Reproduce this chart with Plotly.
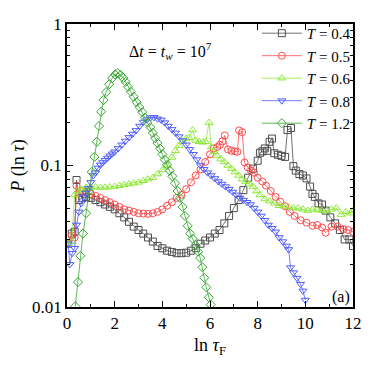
import plotly.graph_objects as go

# ln(tau_F) and P(ln tau), one pair of lists per temperature
x_04 = [0.05, 0.2, 0.32, 0.4, 0.5, 0.65, 0.8, 1.0, 1.2, 1.4, 1.6, 1.8, 2.0, 2.2, 2.4, 2.6, 2.8, 3.0,
        3.2, 3.4, 3.6, 3.8, 4.0, 4.2, 4.4, 4.6, 4.8, 5.0, 5.2, 5.4, 5.6, 5.8, 6.0, 6.2, 6.4, 6.6,
        6.8, 7.0, 7.2, 7.4, 7.6, 7.8, 8.0, 8.1, 8.2, 8.3, 8.4, 8.5, 8.6, 8.7, 8.85, 9.0, 9.15,
        9.25, 9.4, 9.5, 9.6, 9.75, 9.9, 10.05, 10.2, 10.3, 10.4, 10.55, 10.7, 10.85, 11.05,
        11.25, 11.45, 11.65, 11.85, 12.0]
y_04 = [0.028, 0.033, 0.034, 0.079, 0.057, 0.059, 0.060, 0.059, 0.057, 0.055, 0.053, 0.051, 0.049,
        0.046, 0.043, 0.040, 0.037, 0.035, 0.033, 0.031, 0.029, 0.027, 0.026, 0.025, 0.0245,
        0.024, 0.024, 0.0242, 0.025, 0.026, 0.028, 0.0295, 0.031, 0.033, 0.035, 0.039, 0.044,
        0.050, 0.057, 0.067, 0.082, 0.095, 0.108, 0.123, 0.126, 0.132, 0.127, 0.147, 0.155,
        0.122, 0.119, 0.117, 0.115, 0.178, 0.184, 0.099, 0.092, 0.087, 0.085, 0.081, 0.071,
        0.063, 0.060, 0.054, 0.053, 0.048, 0.043, 0.039, 0.035, 0.030, 0.030, 0.027]

x_05 = [0.05, 0.2, 0.32, 0.4, 0.5, 0.65, 0.8, 1.0, 1.2, 1.4, 1.6, 1.8, 2.0, 2.2, 2.4, 2.6, 2.8, 3.0,
        3.2, 3.4, 3.6, 3.8, 4.0, 4.2, 4.4, 4.6, 4.8, 5.0, 5.2, 5.4, 5.6, 5.8, 6.0, 6.15, 6.3, 6.42,
        6.52, 6.62, 6.75, 6.9, 7.05, 7.15, 7.22, 7.35, 7.45, 7.58, 7.72, 7.85, 8.0, 8.2, 8.35,
        8.55, 8.75, 8.95, 9.15, 9.35, 9.55, 9.8, 10.05, 10.3, 10.5, 10.7, 10.85, 11.1, 11.35,
        11.6, 11.8, 12.0]
y_05 = [0.028, 0.032, 0.031, 0.072, 0.064, 0.066, 0.065, 0.063, 0.061, 0.059, 0.057, 0.055, 0.053,
        0.051, 0.049, 0.048, 0.047, 0.046, 0.0457, 0.0455, 0.046, 0.047, 0.049, 0.052, 0.055,
        0.059, 0.062, 0.068, 0.076, 0.085, 0.094, 0.106, 0.120, 0.132, 0.135, 0.140, 0.148,
        0.163, 0.130, 0.127, 0.126, 0.125, 0.177, 0.172, 0.105, 0.097, 0.092, 0.089, 0.082,
        0.077, 0.072, 0.066, 0.060, 0.0555, 0.0515, 0.047, 0.044, 0.041, 0.0395, 0.0375, 0.038,
        0.0365, 0.0335, 0.037, 0.037, 0.0355, 0.035, 0.034]

x_06 = [0.05, 0.2, 0.32, 0.45, 0.6, 0.8, 1.0, 1.2, 1.4, 1.6, 1.8, 2.0, 2.2, 2.4, 2.6, 2.8, 3.0, 3.2,
        3.4, 3.6, 3.8, 4.0, 4.2, 4.4, 4.55, 4.7, 4.85, 5.0, 5.12, 5.27, 5.4, 5.55, 5.7, 5.82,
        5.96, 6.05, 6.17, 6.3, 6.45, 6.6, 6.75, 6.9, 7.05, 7.2, 7.35, 7.5, 7.65, 7.8, 7.95, 8.1,
        8.3, 8.5, 8.7, 8.9, 9.1, 9.3, 9.5, 9.7, 9.9, 10.1, 10.3, 10.5, 10.7, 10.9, 11.1, 11.3,
        11.5, 11.7, 11.9, 12.0]
y_06 = [0.028, 0.029, 0.062, 0.066, 0.068, 0.070, 0.070, 0.0705, 0.070, 0.070, 0.0705, 0.071,
        0.072, 0.073, 0.074, 0.075, 0.076, 0.078, 0.080, 0.082, 0.087, 0.093, 0.100, 0.114,
        0.127, 0.138, 0.148, 0.155, 0.157, 0.178, 0.150, 0.147, 0.146, 0.147, 0.201, 0.135,
        0.125, 0.117, 0.111, 0.106, 0.100, 0.095, 0.090, 0.085, 0.080, 0.077, 0.074, 0.071,
        0.066, 0.062, 0.058, 0.056, 0.054, 0.052, 0.0515, 0.051, 0.050, 0.050, 0.049, 0.048,
        0.049, 0.0485, 0.048, 0.0475, 0.049, 0.050, 0.045, 0.047, 0.046, 0.048]

x_08 = [0.05, 0.12, 0.22, 0.32, 0.4, 0.5, 0.6, 0.7, 0.8, 0.9, 1.0, 1.1, 1.2, 1.3, 1.4, 1.5, 1.6,
        1.7, 1.8, 1.9, 2.0, 2.15, 2.3, 2.45, 2.6, 2.75, 2.9, 3.05, 3.2, 3.35, 3.5, 3.65, 3.8,
        3.95, 4.1, 4.25, 4.4, 4.55, 4.7, 4.85, 5.0, 5.15, 5.3, 5.45, 5.6, 5.75, 5.9, 6.05, 6.2,
        6.35, 6.5, 6.65, 6.8, 6.95, 7.1, 7.25, 7.4, 7.55, 7.7, 7.85, 8.0, 8.15, 8.3, 8.45, 8.6,
        8.75, 8.9, 9.05, 9.2, 9.3, 9.38, 9.5, 9.65, 9.8, 9.9, 10.0]
y_08 = [0.028, 0.020, 0.024, 0.026, 0.038, 0.047, 0.054, 0.060, 0.064, 0.069, 0.076, 0.085,
        0.089, 0.096, 0.101, 0.105, 0.109, 0.113, 0.117, 0.121, 0.125, 0.132, 0.140, 0.149,
        0.158, 0.167, 0.177, 0.190, 0.203, 0.211, 0.218, 0.219, 0.214, 0.210, 0.201, 0.190,
        0.180, 0.170, 0.160, 0.150, 0.140, 0.130, 0.120, 0.110, 0.100, 0.094, 0.089, 0.085,
        0.081, 0.077, 0.074, 0.071, 0.068, 0.065, 0.062, 0.059, 0.057, 0.055, 0.053, 0.050,
        0.047, 0.044, 0.041, 0.038, 0.036, 0.034, 0.031, 0.029, 0.027, 0.0255, 0.019, 0.0175,
        0.016, 0.0145, 0.013, 0.0112]

x_12 = [0.35, 0.46, 0.56, 0.67, 0.8, 0.92, 1.04, 1.15, 1.25, 1.34, 1.43, 1.53, 1.64, 1.77, 1.9,
        2.02, 2.13, 2.25, 2.36, 2.46, 2.56, 2.68, 2.8, 2.92, 3.04, 3.16, 3.27, 3.38, 3.5, 3.6,
        3.7, 3.8, 3.9, 4.0, 4.1, 4.2, 4.31, 4.42, 4.53, 4.64, 4.74, 4.85, 4.95, 5.06, 5.17,
        5.27, 5.4, 5.5, 5.59, 5.68, 5.76, 5.84, 5.95, 6.03]
y_12 = [0.0101, 0.015, 0.023, 0.033, 0.046, 0.066, 0.090, 0.115, 0.147, 0.19, 0.24, 0.29, 0.33,
        0.375, 0.415, 0.44, 0.45, 0.435, 0.415, 0.39, 0.36, 0.332, 0.306, 0.28, 0.258, 0.238,
        0.218, 0.201, 0.186, 0.17, 0.156, 0.144, 0.132, 0.12, 0.11, 0.101, 0.092, 0.084, 0.075,
        0.066, 0.059, 0.051, 0.044, 0.0375, 0.033, 0.0304, 0.0273, 0.0246, 0.0222, 0.0191,
        0.0161, 0.0138, 0.0117, 0.0104]

series = [
    ("0.4", x_04, y_04, "square-open", "#4d4d4d"),
    ("0.5", x_05, y_05, "circle-open", "#ff4b4b"),
    ("0.6", x_06, y_06, "triangle-up-open", "#8fe83a"),
    ("0.8", x_08, y_08, "triangle-down-open", "#4f5cff"),
    ("1.2", x_12, y_12, "diamond-open", "#35a82e"),
]

font = "Liberation Serif, Times New Roman, serif"

fig = go.Figure()
for name, xs, ys, sym, col in series:
    fig.add_trace(go.Scatter(
        x=xs, y=ys,
        mode="lines+markers",
        name=f"<i>T</i> = {name}",
        line=dict(color=col, width=0.8),
        marker=dict(symbol=sym, size=7, color=col, line=dict(width=1, color=col)),
    ))

fig.add_annotation(
    text="Δ<i>t</i> = <i>t</i><sub><i>w</i></sub> = 10<sup>7</sup>",
    xref="paper", yref="paper", x=0.21, y=0.905,
    xanchor="left", yanchor="middle", showarrow=False,
    font=dict(family=font, size=16, color="black"),
)
fig.add_annotation(
    text="(a)",
    xref="paper", yref="paper", x=0.995, y=0.035,
    xanchor="right", yanchor="middle", showarrow=False,
    font=dict(family=font, size=16, color="black"),
)

# the page puts the plot 8 px in from the corner, so margins are trimmed by that much
fig.update_layout(
    width=374, height=363,
    margin=dict(l=58, r=29, t=7, b=64),
    paper_bgcolor="white", plot_bgcolor="white",
    font=dict(family=font, size=17, color="black"),
    showlegend=True,
    legend=dict(
        x=1.01, y=1.025, xanchor="right", yanchor="top",
        bgcolor="rgba(0,0,0,0)", font=dict(family=font, size=15),
        tracegroupgap=0, itemwidth=40,
    ),
    xaxis=dict(
        range=[0, 12], dtick=2, tick0=0,
        showgrid=False, zeroline=False,
        showline=True, linecolor="black", linewidth=1.5, mirror="ticks",
        ticks="inside", ticklen=6, tickwidth=1.2, tickcolor="black",
        minor=dict(dtick=1, ticks="inside", ticklen=3, tickcolor="black"),
        title=dict(text="ln <i>τ</i><sub>F</sub>", font=dict(family=font, size=18), standoff=6),
    ),
    yaxis=dict(
        type="log", range=[-2, 0],
        tickvals=[0.01, 0.1, 1], ticktext=["0.01", "0.1", "1"],
        showgrid=False, zeroline=False,
        showline=True, linecolor="black", linewidth=1.5, mirror="ticks",
        ticks="inside", ticklen=6, tickwidth=1.2, tickcolor="black",
        minor=dict(dtick="D1", ticks="inside", ticklen=3, tickcolor="black"),
        title=dict(text="<i>P</i> (ln <i>τ</i>)", font=dict(family=font, size=18), standoff=4),
    ),
)

fig.write_html("out.html")
